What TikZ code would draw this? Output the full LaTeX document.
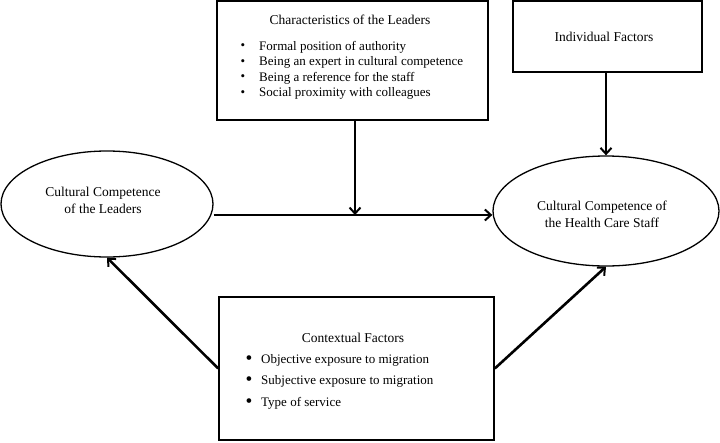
\documentclass[tikz,border=0pt]{standalone}
\usepackage{fontspec}
\setmainfont{Liberation Serif}
\usetikzlibrary{arrows.meta,shapes.geometric}
\begin{document}
\begin{tikzpicture}[x=1pt,y=-1pt,
  box/.style={draw,line width=1.6pt,rectangle,inner sep=0pt},
  oval/.style={draw,line width=1.3pt,ellipse,inner sep=0pt},
  conn/.style={line width=2.6pt,-{Straight Barb[length=6pt,width=11pt,line width=2pt]}},
  txt/.style={font=\fontsize{13}{15}\selectfont,inner sep=0pt},
  big/.style={font=\fontsize{13.5}{17}\selectfont,inner sep=0pt},
  item/.style={txt,anchor=west},
  dot/.style={txt}]
\useasboundingbox (0,0) rectangle (720,442);
\node[box,minimum width=271pt,minimum height=119pt] (C) at (352.5,60.5) {};
\node[box,minimum width=189pt,minimum height=71pt] (I) at (607.5,36.5) {};
\node[box,minimum width=275pt,minimum height=143pt] (X) at (356.5,368.5) {};
\node[oval,minimum width=212pt,minimum height=106pt] (L) at (107,204) {};
\node[oval,minimum width=226pt,minimum height=110pt] (R) at (606,211) {};
% texts
\node[big] (ct) at (350,20) {Characteristics of the Leaders};
\node[dot] (cb1) at (243,47) {\textbullet};
\node[dot] (cb2) at (243,62.5) {\textbullet};
\node[dot] (cb3) at (243,78) {\textbullet};
\node[dot] (cb4) at (243,93.5) {\textbullet};
\node[item] (c1) at (259,47) {Formal position of authority};
\node[item] (c2) at (259,62.5) {Being an expert in cultural competence};
\node[item] (c3) at (259,78) {Being a reference for the staff};
\node[item] (c4) at (259,93.5) {Social proximity with colleagues};
\node[big] (it) at (604,37) {Individual Factors};
\node[big,align=center] (lt) at (103,200) {Cultural Competence\\of the Leaders};
\node[big,align=center] (rt) at (602,214.5) {Cultural Competence of\\the Health Care Staff};
\node[big] (xt) at (353,338) {Contextual Factors};
\node[dot,scale=1.5] (xb1) at (249,360) {\textbullet};
\node[dot,scale=1.5] (xb2) at (249,381.5) {\textbullet};
\node[dot,scale=1.5] (xb3) at (249,403) {\textbullet};
\node[item] (x1) at (261,360) {Objective exposure to migration};
\node[item] (x2) at (261,381.5) {Subjective exposure to migration};
\node[item] (x3) at (261,403) {Type of service};
% connectors
\coordinate (mid) at (355,215);
\draw[conn] (L.east |- mid) -- (R.west |- mid);
\draw[conn] (C.south -| mid) -- (mid);
\draw[conn] (I.south -| R.north) -- (R.north);
\draw[conn] (X.west) -- (L.south);
\draw[conn] (X.east) -- (R.south);
\end{tikzpicture}
\end{document}
